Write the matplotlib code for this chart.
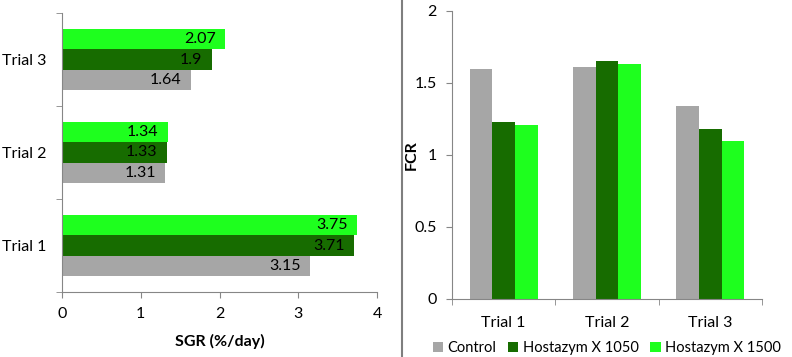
import numpy as np
import matplotlib.pyplot as plt
from matplotlib.lines import Line2D
from matplotlib.ticker import FuncFormatter

plt.rcParams['font.family'] = ['Lato', 'DejaVu Sans']

# Data
trials = ["Trial 1", "Trial 2", "Trial 3"]
groups = ["Control", "Hostazym X 1050", "Hostazym X 1500"]
sgr_control = [3.15, 1.31, 1.64]
sgr_1050 = [3.71, 1.33, 1.9]
sgr_1500 = [3.75, 1.34, 2.07]
fcr_control = [1.60, 1.61, 1.34]
fcr_1050 = [1.23, 1.65, 1.18]
fcr_1500 = [1.21, 1.63, 1.10]

colors = ["#A6A6A6", "#176C00", "#1EFF1E"]
axis_col = "#868686"
fs = 11.5

fig = plt.figure(figsize=(7.92, 3.57), dpi=100)
W, H = 792, 357

def style(ax):
    for s in ["top", "right"]:
        ax.spines[s].set_visible(False)
    for s in ["left", "bottom"]:
        ax.spines[s].set_color(axis_col)
    ax.tick_params(which="both", color=axis_col, direction="out", labelsize=fs)

# ---- left: SGR horizontal bars
ax1 = fig.add_axes([62 / W, (H - 292) / H, (377 - 62) / W, (292 - 13) / H])
y = np.arange(len(trials))
w = 0.222
for k, vals in enumerate([sgr_control, sgr_1050, sgr_1500]):
    pos = y + (k - 1) * w
    ax1.barh(pos, vals, height=w, color=colors[k])
    for p, v in zip(pos, vals):
        ax1.text(v - 0.12, p, "{:g}".format(v), ha="right", va="center", fontsize=fs)
ax1.set_xlim(0, 4)
ax1.set_ylim(-0.5, 2.5)
ax1.set_xticks([0, 1, 2, 3, 4])
ax1.set_yticks(y)
ax1.set_yticklabels(trials)
ax1.set_yticks([-0.5, 0.5, 1.5, 2.5], minor=True)
style(ax1)
ax1.tick_params(axis="y", which="major", length=0, pad=11)
ax1.tick_params(axis="y", which="minor", length=4)
ax1.tick_params(axis="x", length=4, pad=7)
ax1.set_xlabel("SGR (%/day)", fontsize=fs, fontweight="bold", labelpad=9)

# ---- right: FCR vertical bars
ax2 = fig.add_axes([452 / W, (H - 299) / H, (762 - 452) / W, (299 - 11) / H])
x = np.arange(len(trials))
w2 = 0.22
for k, vals in enumerate([fcr_control, fcr_1050, fcr_1500]):
    ax2.bar(x + (k - 1) * w2, vals, width=w2, color=colors[k], label=groups[k])
ax2.set_ylim(0, 2)
ax2.set_xlim(-0.5, 2.5)
ax2.set_yticks([0, 0.5, 1, 1.5, 2])
ax2.yaxis.set_major_formatter(FuncFormatter(lambda v, _: "{:g}".format(v)))
ax2.set_xticks(x)
ax2.set_xticklabels(trials)
ax2.set_xticks([-0.5, 0.5, 1.5, 2.5], minor=True)
style(ax2)
ax2.tick_params(axis="x", which="major", length=0, pad=12)
ax2.tick_params(axis="x", which="minor", length=4)
ax2.tick_params(axis="y", length=4, pad=7)
ax2.set_ylabel("FCR", fontsize=fs, fontweight="bold")
ax2.yaxis.set_label_coords(-0.106, 0.5)
ax2.legend(loc="upper center", bbox_to_anchor=(0.5, -0.125), ncol=3, frameon=False,
           fontsize=10.5, handlelength=0.7, handleheight=0.7, handletextpad=0.3,
           columnspacing=0.8, borderaxespad=0)

# separator between the two charts
fig.add_artist(Line2D([402 / W, 402 / W], [0, 1], color="#7F7F7F", lw=1.5))

fig.savefig("out.png", dpi=100)
